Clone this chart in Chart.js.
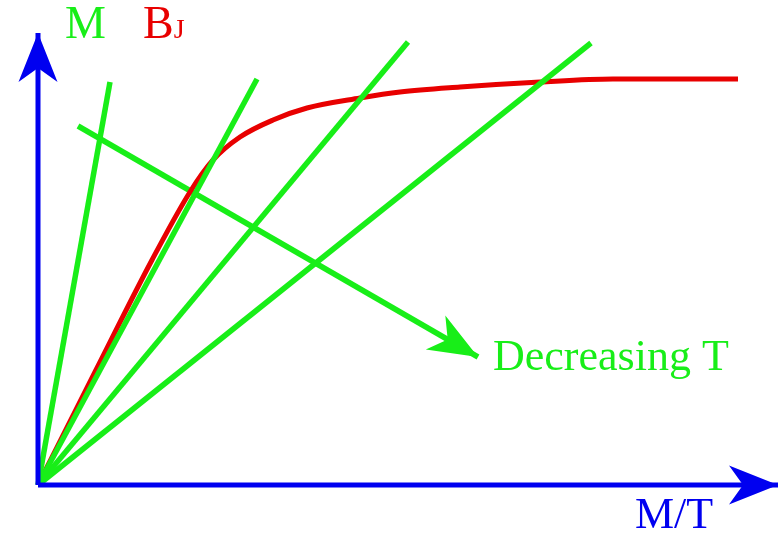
<!DOCTYPE html>
<html>
<head>
<meta charset="utf-8">
<script src="https://cdn.jsdelivr.net/npm/chart.js@4"></script>
<style>
  html, body { margin: 0; padding: 0; background: #fff; }
  #wrap { width: 784px; height: 534px; }
</style>
</head>
<body>
<div id="wrap"><canvas id="chartBrillouin"></canvas></div>
<script>
// Datos (unidades arbitrarias: x = M/T, y = M)
const curvaX = [0, 57, 114, 152, 175, 202, 235, 269, 322, 362, 422, 502, 575, 700];
const curvaY = [0, 113, 225, 293, 325, 348, 365, 377, 387, 393, 398, 403, 406, 406];

// Rectas M = C·(M/T) para varias temperaturas (extremos)
const rectasX = [72, 219, 370, 553];
const rectasY = [403, 406, 443, 442];

// Flecha "Decreasing T"
const flechaX = [40, 440];
const flechaY = [359, 128];

const ejeXMax = 740;
const ejeYMax = 452;

const AZUL = '#0000f0';
const VERDE = '#18ee18';
const ROJO = '#e80000';

function puntos(xs, ys) {
    return xs.map((x, i) => ({ x: x, y: ys[i] }));
}

const datasets = [];

// ejes
datasets.push({ data: [{ x: 0, y: 0 }, { x: ejeXMax, y: 0 }], borderColor: AZUL, borderWidth: 5, flecha: true });
datasets.push({ data: [{ x: 0, y: 0 }, { x: 0, y: ejeYMax }], borderColor: AZUL, borderWidth: 5, flecha: true });

// rectas verdes
rectasX.forEach((x, i) => {
    datasets.push({ data: [{ x: 0, y: 0 }, { x: x, y: rectasY[i] }], borderColor: VERDE, borderWidth: 5.5 });
});

// curva de Brillouin
datasets.push({
    data: puntos(curvaX, curvaY),
    borderColor: ROJO,
    borderWidth: 5,
    cubicInterpolationMode: 'monotone'
});

// flecha de temperatura
datasets.push({ data: puntos(flechaX, flechaY), borderColor: VERDE, borderWidth: 5.5, flecha: true });

// Plugin: puntas de flecha y textos
const pluginFlechas = {
    id: 'flechas',
    afterDatasetsDraw(chart) {
        const ctx = chart.ctx;
        const sx = chart.scales.x, sy = chart.scales.y;
        chart.data.datasets.forEach(ds => {
            if (!ds.flecha) return;
            const n = ds.data.length;
            const a = ds.data[n - 2], b = ds.data[n - 1];
            const x0 = sx.getPixelForValue(a.x), y0 = sy.getPixelForValue(a.y);
            const x1 = sx.getPixelForValue(b.x), y1 = sy.getPixelForValue(b.y);
            const len = Math.hypot(x1 - x0, y1 - y0);
            const dx = (x1 - x0) / len, dy = (y1 - y0) / len;
            const nx = -dy, ny = dx;
            const L = 49, W = 19.5, N = 35;
            ctx.save();
            ctx.fillStyle = ds.borderColor;
            ctx.beginPath();
            ctx.moveTo(x1, y1);
            ctx.lineTo(x1 - L * dx + W * nx, y1 - L * dy + W * ny);
            ctx.lineTo(x1 - N * dx, y1 - N * dy);
            ctx.lineTo(x1 - L * dx - W * nx, y1 - L * dy - W * ny);
            ctx.closePath();
            ctx.fill();
            ctx.restore();
        });

        // textos
        const txt = (s, x, y, color, size) => {
            ctx.save();
            ctx.font = size + 'px "Liberation Serif", "DejaVu Serif", serif';
            ctx.fillStyle = color;
            ctx.textBaseline = 'alphabetic';
            ctx.textAlign = 'left';
            ctx.fillText(s, sx.getPixelForValue(x), sy.getPixelForValue(y));
            const w = ctx.measureText(s).width;
            ctx.restore();
            return w;
        };
        txt('M', 27, 447, VERDE, 46);
        const wB = txt('B', 105, 447, ROJO, 46);
        ctx.save();
        ctx.font = '28px "Liberation Serif", serif';
        ctx.fillStyle = ROJO;
        ctx.fillText('J', sx.getPixelForValue(105) + wB, sy.getPixelForValue(447));
        ctx.restore();
        txt('Decreasing T', 455, 115, VERDE, 44);
        txt('M/T', 597, -43, AZUL, 44);
    }
};

const ctx = document.getElementById('chartBrillouin');
window.chartBrillouinInstance = new Chart(ctx, {
    type: 'line',
    data: { datasets: datasets },
    options: {
        responsive: true,
        maintainAspectRatio: false,
        animation: false,
        layout: { padding: { left: 38, top: 33, right: 6, bottom: 49 } },
        elements: { point: { radius: 0 }, line: { fill: false, borderCapStyle: 'butt' } },
        datasets: { line: { clip: false } },
        scales: {
            x: { type: 'linear', min: 0, max: ejeXMax, display: false },
            y: { type: 'linear', min: 0, max: ejeYMax, display: false }
        },
        plugins: {
            legend: { display: false },
            tooltip: { enabled: false }
        }
    },
    plugins: [pluginFlechas]
});
</script>
</body>
</html>
